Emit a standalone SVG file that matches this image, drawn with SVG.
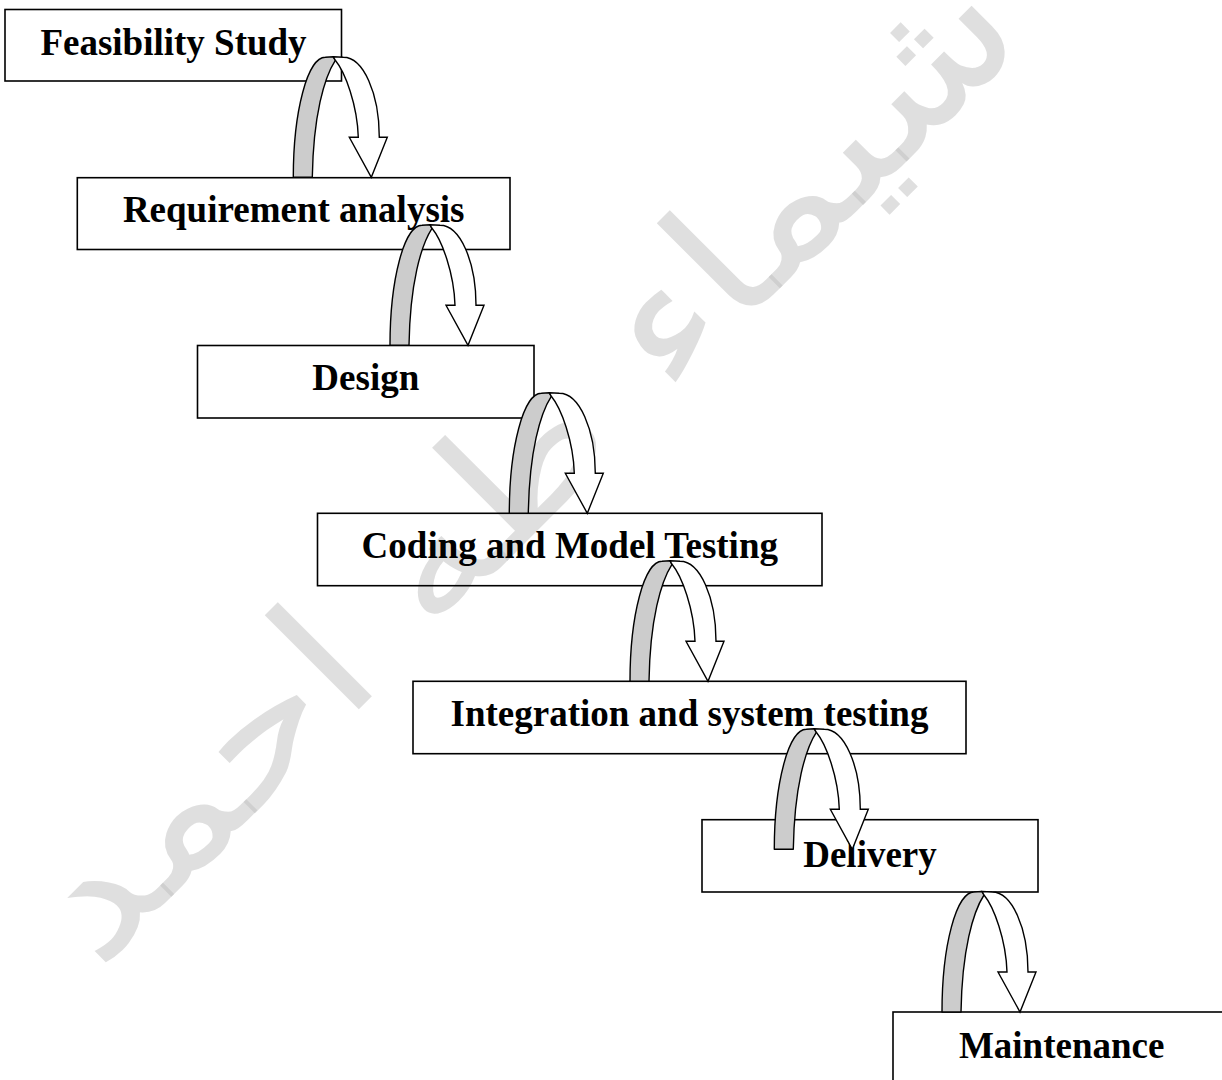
<svg xmlns="http://www.w3.org/2000/svg" width="1222" height="1080" viewBox="0 0 1222 1080">
  <style>
    .box { fill: none; stroke: #000; stroke-width: 1.6; }
    .lbl { font-family: "Liberation Serif", "Times New Roman", serif; font-weight: bold; font-size: 37px; fill: #000; text-anchor: middle; }
    .back { fill: #cccccc; stroke: #000; stroke-width: 1.4; stroke-linejoin: round; }
    .front { fill: #fff; stroke: #000; stroke-width: 1.4; stroke-linejoin: miter; }
    .wm { font-family: "DejaVu Sans", sans-serif; font-weight: normal; font-size: 175px; fill: #c0c0c0; fill-opacity: 0.5; }
  </style>
  <defs>
    <!-- curved down arrow: shaded back leg on the left, white front leg with head on the right;
         origin = bottom-left corner of the back leg -->
    <g id="curl">
      <path class="back" d="M0,0 A32,120 0 0 1 32,-120 L40,-120.5 L42,-117 C31,-100 20,-62 19,0 Z"/>
      <path class="front" d="M40,-120.5 L50,-120 A36,80 0 0 1 86,-40 L94,-40 L78,0 L56,-40 L65,-40 C64,-72 52,-105 42,-117 Z"/>
    </g>
  </defs>

  <rect width="1222" height="1080" fill="#fff"/>

  <!-- diagonal watermark -->
  <g id="watermark">
    <text class="wm" x="563" y="505" text-anchor="middle" textLength="1318" lengthAdjust="spacingAndGlyphs" transform="rotate(-45 563 505)">شيماء طه احمد</text>
  </g>

  <g id="feasibility">
    <rect class="box" x="5" y="9.5" width="336.5" height="71.5"/>
    <text class="lbl" x="173.5" y="55">Feasibility Study</text>
  </g>
  <g id="requirements">
    <rect class="box" x="77.3" y="177.7" width="432.7" height="71.8"/>
    <text class="lbl" x="293.7" y="221.7">Requirement analysis</text>
  </g>
  <g id="design">
    <rect class="box" x="197.5" y="345.5" width="336.5" height="72.5"/>
    <text class="lbl" x="365.8" y="390">Design</text>
  </g>
  <g id="coding">
    <rect class="box" x="317.5" y="513.3" width="504.5" height="72.4"/>
    <text class="lbl" x="569.8" y="557.8">Coding and Model Testing</text>
  </g>
  <g id="integration">
    <rect class="box" x="413" y="681.3" width="553" height="72.4"/>
    <text class="lbl" x="689.5" y="725.8">Integration and system testing</text>
  </g>
  <g id="delivery">
    <rect class="box" x="702" y="819.7" width="336" height="72.3"/>
    <text class="lbl" x="870" y="866.7">Delivery</text>
  </g>
  <g id="maintenance">
    <rect class="box" x="893" y="1012" width="337" height="72"/>
    <text class="lbl" x="1061.7" y="1057.7">Maintenance</text>
  </g>

  <g id="connectors">
    <use href="#curl" x="293.3" y="177.3"/>
    <use href="#curl" x="390" y="345.3"/>
    <use href="#curl" x="509.3" y="513.3"/>
    <use href="#curl" x="630" y="681.3"/>
    <use href="#curl" x="774.3" y="849.3"/>
    <use href="#curl" x="942" y="1012"/>
  </g>
</svg>
